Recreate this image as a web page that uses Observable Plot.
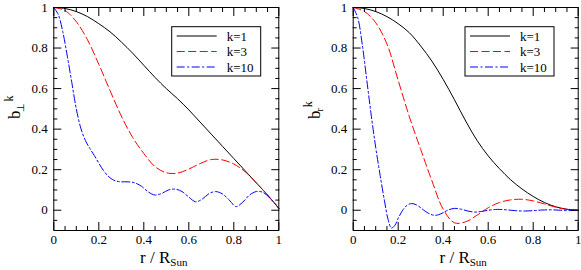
<!DOCTYPE html>
<html><head><meta charset="utf-8">
<script src="https://cdn.jsdelivr.net/npm/d3@7"></script>
<script src="https://cdn.jsdelivr.net/npm/@observablehq/plot@0.6"></script>
<style>
body{margin:0;background:#fff;}
#wrap{display:flex;width:581px;height:270px;}
svg{overflow:visible;display:block;}
svg text{font-family:"Liberation Serif","Times New Roman",serif !important;}
</style></head><body><div id="wrap"></div>
<script>
// ---- tick definitions ----
const xMajor = [0, 0.2, 0.4, 0.6, 0.8, 1];
const xTickLabels = ["0", "0.2", "0.4", "0.6", "0.8", "1"];
const xMinor = [0.05, 0.1, 0.15, 0.25, 0.3, 0.35, 0.45, 0.5, 0.55, 0.65, 0.7, 0.75, 0.85, 0.9, 0.95];
const yMajor = [0, 0.2, 0.4, 0.6, 0.8, 1];
const yTickLabels = ["0", "0.2", "0.4", "0.6", "0.8", "1"];
const yMinor = [-0.05, 0.05, 0.1, 0.15, 0.25, 0.3, 0.35, 0.45, 0.5, 0.55, 0.65, 0.7, 0.75, 0.85, 0.9, 0.95];
const seriesNames = ["k=1", "k=3", "k=10"];

// ---- left panel: b_perp ----
const rPerpK1 = [0, 0.05, 0.1, 0.15, 0.2, 0.25, 0.3, 0.35, 0.4, 0.45, 0.5, 0.55, 0.6, 0.65, 0.7, 0.75, 0.8, 0.85, 0.9, 0.95, 1];
const bPerpK1 = [1, 0.995, 0.98, 0.955, 0.92, 0.88, 0.83, 0.775, 0.715, 0.655, 0.6, 0.55, 0.495, 0.435, 0.375, 0.315, 0.255, 0.195, 0.135, 0.075, 0.01];
const rPerpK3 = [0, 0.05, 0.1, 0.15, 0.2, 0.25, 0.3, 0.35, 0.4, 0.45, 0.5, 0.55, 0.6, 0.65, 0.7, 0.75, 0.8, 0.85, 0.9, 0.95, 1];
const bPerpK3 = [1, 0.985, 0.93, 0.84, 0.72, 0.59, 0.465, 0.36, 0.28, 0.215, 0.185, 0.183, 0.203, 0.23, 0.25, 0.248, 0.228, 0.19, 0.135, 0.075, 0.01];
const rPerpK10 = [0, 0.02, 0.04, 0.06, 0.08, 0.1, 0.12, 0.14, 0.16, 0.18, 0.2, 0.22, 0.24, 0.26, 0.28, 0.3, 0.33, 0.36, 0.39, 0.42, 0.45, 0.48, 0.51, 0.54, 0.57, 0.6, 0.63, 0.66, 0.69, 0.72, 0.75, 0.78, 0.81, 0.84, 0.87, 0.9, 0.93, 0.96, 1];
const bPerpK10 = [1, 0.965, 0.88, 0.76, 0.63, 0.5, 0.405, 0.345, 0.305, 0.27, 0.232, 0.197, 0.17, 0.152, 0.143, 0.14, 0.14, 0.135, 0.118, 0.09, 0.075, 0.083, 0.1, 0.104, 0.092, 0.065, 0.042, 0.055, 0.082, 0.092, 0.08, 0.05, 0.018, 0.04, 0.075, 0.092, 0.088, 0.06, 0.01];

// ---- right panel: b_r ----
const rRadK1 = [0, 0.05, 0.1, 0.15, 0.2, 0.25, 0.3, 0.35, 0.4, 0.45, 0.5, 0.55, 0.6, 0.65, 0.7, 0.75, 0.8, 0.85, 0.9, 0.95, 1];
const bRadK1 = [1, 0.995, 0.98, 0.955, 0.92, 0.875, 0.81, 0.735, 0.645, 0.545, 0.44, 0.345, 0.268, 0.205, 0.15, 0.105, 0.068, 0.038, 0.017, 0.005, 0];
const rRadK3 = [0, 0.05, 0.1, 0.15, 0.2, 0.25, 0.3, 0.35, 0.4, 0.45, 0.5, 0.55, 0.6, 0.65, 0.7, 0.75, 0.8, 0.85, 0.9, 0.95, 1];
const bRadK3 = [1, 0.98, 0.925, 0.82, 0.64, 0.46, 0.3, 0.145, 0.005, -0.062, -0.057, -0.025, 0.012, 0.038, 0.051, 0.054, 0.046, 0.031, 0.015, 0.004, 0];
const rRadK10 = [0, 0.02, 0.04, 0.06, 0.08, 0.1, 0.12, 0.14, 0.155, 0.17, 0.185, 0.2, 0.22, 0.24, 0.26, 0.28, 0.3, 0.32, 0.34, 0.36, 0.38, 0.4, 0.42, 0.45, 0.48, 0.51, 0.54, 0.57, 0.6, 0.64, 0.68, 0.72, 0.76, 0.8, 0.84, 0.88, 0.92, 0.96, 1];
const bRadK10 = [1, 0.95, 0.82, 0.645, 0.47, 0.31, 0.17, 0.04, -0.045, -0.088, -0.075, -0.04, 0, 0.025, 0.033, 0.027, 0.012, -0.005, -0.018, -0.025, -0.022, -0.012, 0, 0.009, 0.005, -0.004, -0.009, -0.006, 0, 0.004, 0.002, -0.002, -0.004, -0.002, 0.001, 0.002, 0, -0.001, 0];

const colors = ["#000000", "#ff0000", "#0000ff"];
const dashes = [null, "8,3.5", "8,2.5,2,2.5"];
const FONT = "Liberation Serif, Times New Roman, serif";

function makePanel(cfg) {
  const H = 270, mt = 7, mb = 40;
  const marks = [];
  cfg.series.forEach((s, i) => {
    const data = s.r.map((rv, j) => ({r: rv, b: s.b[j]}));
    marks.push(Plot.line(data, {x: "r", y: "b", stroke: colors[i], strokeWidth: 1, strokeDasharray: dashes[i], curve: "catmull-rom"}));
  });
  const blank = {tickFormat: () => "", label: null};
  for (const anchor of ["bottom", "top"]) {
    marks.push(Plot.axisX({...blank, anchor, ticks: xMajor, tickSize: -8}));
    marks.push(Plot.axisX({...blank, anchor, ticks: xMinor, tickSize: -4}));
  }
  for (const anchor of ["left", "right"]) {
    marks.push(Plot.axisY({...blank, anchor, ticks: yMajor, tickSize: -8}));
    marks.push(Plot.axisY({...blank, anchor, ticks: yMinor, tickSize: -4}));
  }
  marks.push(Plot.axisX({anchor: "bottom", ticks: xMajor, tickSize: 0, tickPadding: 4, label: null, fontSize: 13,
    tickFormat: d => xTickLabels[xMajor.indexOf(d)]}));
  marks.push(Plot.axisY({anchor: "left", ticks: yMajor, tickSize: 0, tickPadding: 6, label: null, fontSize: 13,
    tickFormat: d => yTickLabels[yMajor.indexOf(d)]}));
  marks.push(Plot.frame({stroke: "black", strokeWidth: 1}));

  const svg = Plot.plot({
    width: cfg.width, height: H,
    marginLeft: cfg.ml, marginRight: cfg.mr, marginTop: mt, marginBottom: mb,
    x: {domain: [0, 1]}, y: {domain: [-0.1, 1]},
    style: {fontFamily: FONT, fontSize: "13px", background: "white", overflow: "visible"},
    marks
  });
  const S = d3.select(svg);
  S.attr("font-family", FONT).style("font-family", FONT);
  const frameL = cfg.ml, frameR = cfg.width - cfg.mr;

  // x axis label: r / R_Sun
  const xl = S.append("text").attr("x", (frameL + frameR) / 2 - 2).attr("y", 263)
    .attr("text-anchor", "middle").attr("font-size", 17).attr("fill", "black");
  xl.append("tspan").text("r / R");
  xl.append("tspan").attr("dy", 3).attr("font-size", 11).text("Sun");

  // y axis label: b with superscript k and subscript
  const yl = S.append("text").attr("transform", `translate(${frameL - 33},119) rotate(-90)`)
    .attr("text-anchor", "start").attr("font-size", 17).attr("fill", "black");
  yl.append("tspan").text("b");
  yl.append("tspan").attr("dx", -1).attr("dy", 3.5).attr("font-size", 10).text(cfg.sub);
  yl.append("tspan").attr("dx", 1).attr("dy", -11).attr("font-size", 12).text("k");

  // legend
  const lx = cfg.legendX, ly = 26.7;
  const L = S.append("g");
  L.append("rect").attr("x", lx).attr("y", ly).attr("width", 89).attr("height", 49.3)
    .attr("fill", "white").attr("stroke", "black").attr("stroke-width", 1);
  const rowY = [36, 51.5, 67];
  seriesNames.forEach((name, i) => {
    const line = L.append("line").attr("x1", lx + 5).attr("x2", lx + 45).attr("y1", rowY[i]).attr("y2", rowY[i])
      .attr("stroke", colors[i]).attr("stroke-width", 1);
    if (dashes[i]) line.attr("stroke-dasharray", dashes[i]);
    L.append("text").attr("x", lx + 55).attr("y", rowY[i]).attr("dy", "0.35em").attr("text-anchor", "start")
      .attr("font-size", 13).attr("fill", "black").text(name);
  });
  return svg;
}

const wrap = document.getElementById("wrap");
wrap.appendChild(makePanel({
  width: 290, ml: 53.3, mr: 11.7, sub: "\u22A5", legendX: 171.7,
  series: [{r: rPerpK1, b: bPerpK1}, {r: rPerpK3, b: bPerpK3}, {r: rPerpK10, b: bPerpK10}]
}));
wrap.appendChild(makePanel({
  width: 291, ml: 62.7, mr: 3.3, sub: "r", legendX: 175,
  series: [{r: rRadK1, b: bRadK1}, {r: rRadK3, b: bRadK3}, {r: rRadK10, b: bRadK10}]
}));
</script></body></html>
